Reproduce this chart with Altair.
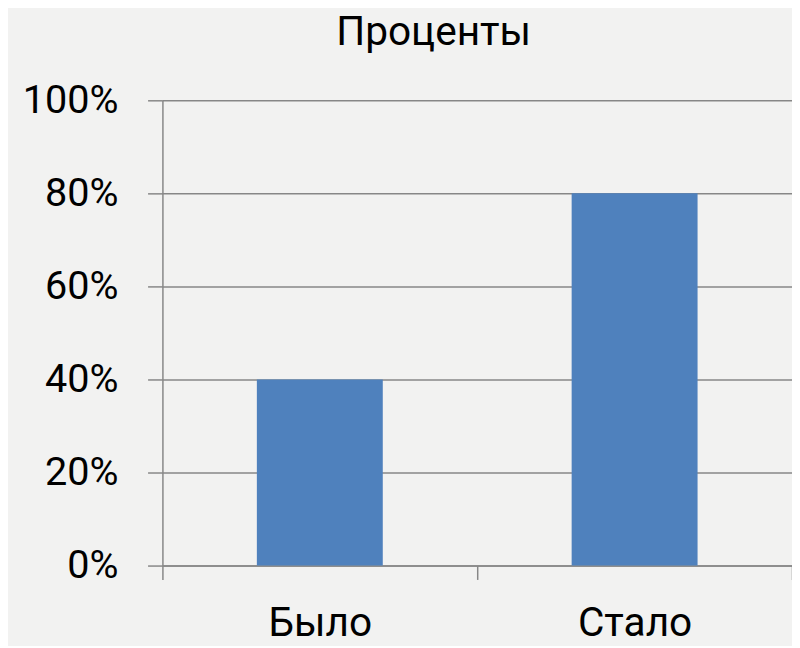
import altair as alt
import pandas as pd

categories = ["Было", "Стало"]
values = [0.40, 0.80]
y_ticks = [0.0, 0.2, 0.4, 0.6, 0.8, 1.0]
title_text = "Проценты"

df = pd.DataFrame({"cat": categories, "val": values})

FONT = "Roboto"
GREY = "#878787"

chart = alt.Chart(df).mark_bar(color="#4f81bd", width=alt.RelativeBandSize(0.4)).encode(
    x=alt.X(
        "cat:N", sort=categories, title=None,
        scale=alt.Scale(paddingInner=0, paddingOuter=0),
        axis=alt.Axis(
            labelAngle=0, tickBand="extent", tickSize=14, tickColor=GREY, tickWidth=1.5,
            domainColor=GREY, domainWidth=1.5, labelFontSize=41, labelPadding=25,
            labelColor="black", labelFont=FONT, grid=False,
        ),
    ),
    y=alt.Y(
        "val:Q", title=None,
        scale=alt.Scale(domain=[0, 1], nice=False),
        axis=alt.Axis(
            values=y_ticks, format=".0%", tickSize=15, tickColor=GREY, tickWidth=1.5,
            domainColor=GREY, domainWidth=1.5, grid=True, gridColor=GREY, gridWidth=1.5,
            labelFontSize=40, labelPadding=30, labelColor="black", labelFont=FONT,
        ),
    ),
).properties(
    width=636,
    height=470,
    title=alt.TitleParams(
        title_text, anchor="middle", frame="group", dx=-44, fontSize=41,
        font=FONT, fontWeight="normal", color="black", offset=27,
    ),
    autosize="none",
    padding={"left": 156, "top": 90, "right": 0, "bottom": 78},
    background="#f2f2f1",
).configure_view(stroke=None)

chart.save("out.html", embed_options={"renderer": "svg", "actions": False})
